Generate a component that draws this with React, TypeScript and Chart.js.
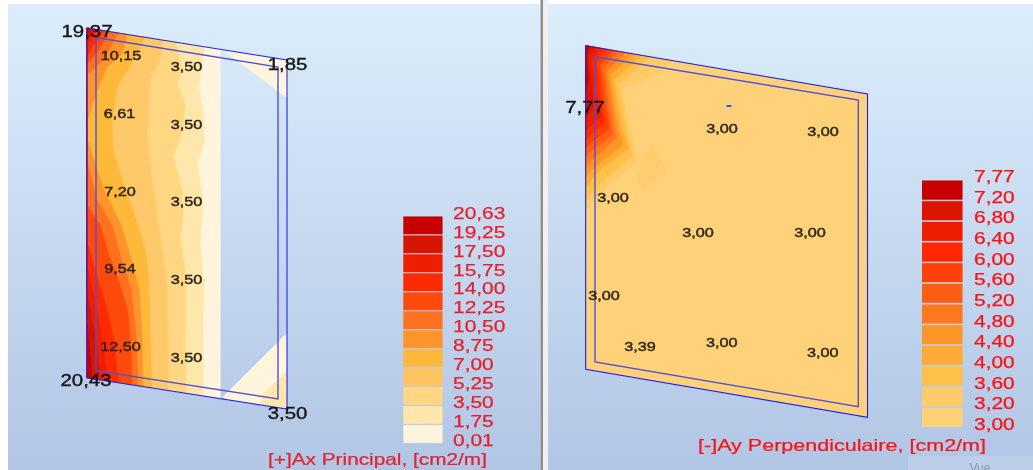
import React, { useEffect, useRef } from "react";
import { Chart, registerables } from "chart.js";

Chart.register(...registerables);

type P = [number, number];

// ---------- left plate (Ax) ----------
const leftOuter: P[] = [[86.7, 28], [287, 60], [287, 409], [86.7, 377.7]];
const leftInner: P[] = [[96, 37.5], [278, 67], [278, 399], [96, 370.7]];
const leftBaseColor = "#fff5dc";
const leftColors = ["#ffe6ab", "#ffd682", "#ffc96a", "#ffb93a", "#ff932c", "#ff711e", "#ff4a0e", "#ff2a00", "#ee1e00", "#d61400", "#c60000"];
const leftBase: P[] = [[86.7, 28], [220, 48.9], [220, 398.5], [86.7, 377.7]];
const leftTriTop: P[] = [[221.7, 49.2], [287, 60], [287, 98]];
const leftTriBottom: P[] = [[287, 333], [223, 397], [226, 399.5], [287, 409]];
const leftTriBottom2: P[] = [[287, 372], [262, 395], [262, 405], [287, 409]];
const leftContours: P[][] = [
  [[203, 46.2], [203.5, 55], [198.5, 86.7], [203.5, 113], [204, 143], [197.5, 163], [203, 200], [200, 245], [204, 282], [203, 335], [203, 395.9]],
  [[176, 42], [181.7, 71.7], [176.7, 83], [185, 103], [183, 130], [173, 157], [181.7, 187], [183, 215], [180, 238], [185, 268], [185, 335], [186, 393.2]],
  [[163, 40], [160, 60], [150, 80], [148, 124], [147, 133], [153, 187], [159, 230], [167, 285], [168, 335], [168, 390.4]],
  [[145, 37.1], [130, 67], [117, 86], [112, 124], [113, 150], [122, 180], [139, 228], [147, 258], [149, 288], [150, 335], [152, 387.9]],
  [[127, 34.3], [122, 54], [107, 67], [97, 91], [87.5, 120], [86.7, 137], [94, 160], [104, 190], [121, 225], [131, 258], [139, 288], [142, 335], [143, 386.5]],
  [[118, 32.9], [104, 59], [94, 69], [86.7, 74], [86.7, 160], [97, 200], [112, 225], [121, 258], [131, 288], [136, 335], [138, 385.7]],
  [[110, 31.6], [97, 52], [86.7, 64], [86.7, 205], [100, 225], [110, 258], [121, 288], [128, 312], [131, 350], [132, 384.8]],
  [[104, 30.7], [94, 44], [86.7, 56], [86.7, 240], [95, 270], [106, 305], [114, 340], [118, 382.6]],
  [[98, 29.8], [90, 38], [86.7, 50], [86.7, 265], [95, 300], [102, 340], [108, 381]],
  [[94, 29.1], [86.7, 43], [86.7, 290], [96, 340], [100, 379.8]],
  [[90, 28.5], [86.7, 36], [86.7, 320], [89, 340], [92, 378.5]],
];

// ---------- right plate (Ay) ----------
const rightOuter: P[] = [[585.7, 45.7], [867.5, 94], [867.5, 417.3], [585.7, 369.3]];
const rightInner: P[] = [[595, 56.7], [858.3, 100], [858.3, 406.7], [595, 362]];
const rightBaseColor = "#ffd27a";
const rightPatchColor = "#ffcd70";
const rightColors = ["#ffca68", "#ffc048", "#ffac36", "#ff9428", "#ff7820", "#ff5c14", "#ff4008", "#ff2800", "#ee1c00", "#dc1400", "#c80000"];
const rightPatch: P[] = [[651.7, 144.3], [667.3, 171.7], [641.7, 191], [636, 175]];
const rightContours: P[][] = [
  [[673, 60.7], [661.7, 71.7], [621.7, 90], [630, 130], [637.3, 161.7], [608.3, 185], [585.7, 210]],
  [[650, 56.7], [618.3, 85], [625, 123.3], [632.7, 155], [605, 178.3], [585.7, 200]],
  [[641.7, 55.3], [613.3, 80], [621.7, 126.7], [628.3, 148.3], [600, 170], [585.7, 186.7]],
  [[633.3, 53.9], [610, 75], [616.7, 120], [622.7, 145], [596.7, 165], [585.7, 176.7]],
  [[625, 52.5], [606.7, 71.7], [613.3, 116.7], [616.7, 138.3], [593.3, 158.3], [585.7, 166.7]],
  [[618.3, 51.3], [603.3, 68.3], [608.3, 106.7], [612.7, 135], [591.7, 150], [585.7, 156.7]],
  [[613.3, 50.4], [600, 65], [605, 105], [609.3, 128.3], [590, 143.3], [585.7, 148.3]],
  [[605, 49], [596.7, 61.7], [600, 96.7], [605, 121.7], [588.3, 136.7], [585.7, 140]],
  [[600, 48.2], [591.7, 60], [595, 90], [601.7, 116.7], [585.7, 130]],
  [[595, 47.3], [588.3, 56.7], [591.7, 86.7], [593.3, 106.7], [585.7, 118.3]],
  [[590, 46.4], [586.7, 55], [588.3, 80], [585.7, 93.3]],
];

// ---------- legends ----------
const leftLegendValues = ["20,63", "19,25", "17,50", "15,75", "14,00", "12,25", "10,50", "8,75", "7,00", "5,25", "3,50", "1,75", "0,01"];
const leftLegendColors = ["#c60000", "#d61400", "#ee1e00", "#ff2a00", "#ff4a0e", "#ff711e", "#ff932c", "#ffb93a", "#ffc45f", "#ffd682", "#ffe6ab", "#fff5dc"];
const rightLegendValues = ["7,77", "7,20", "6,80", "6,40", "6,00", "5,60", "5,20", "4,80", "4,40", "4,00", "3,60", "3,20", "3,00"];
const rightLegendColors = ["#c80000", "#dc1400", "#ee1c00", "#ff2800", "#ff4008", "#ff5c14", "#ff7820", "#ff9428", "#ffac36", "#ffc048", "#ffca68", "#ffd27a"];
const leftTitle = "[+]Ax Principal, [cm2/m]";
const rightTitle = "[-]Ay Perpendiculaire, [cm2/m]";

// ---------- value labels ----------
const cornerLabels: [string, number, number][] = [
  ["19,37", 87, 31.5], ["1,85", 287.5, 64], ["20,43", 86, 380], ["3,50", 287.5, 413], ["7,77", 585, 107],
];
const pointLabels: [string, number, number][] = [
  ["10,15", 121, 55], ["3,50", 186.5, 66], ["6,61", 119.5, 113], ["3,50", 186.5, 124.5],
  ["7,20", 120, 191.5], ["3,50", 186.5, 201.5], ["9,54", 120, 268.5], ["3,50", 186.5, 279.5],
  ["12,50", 120.5, 346], ["3,50", 186.5, 357],
  ["3,00", 613, 197], ["3,00", 722, 128], ["3,00", 823, 131], ["3,00", 698, 232], ["3,00", 810, 232],
  ["3,00", 604, 295.7], ["3,39", 640, 346], ["3,00", 721.7, 342.3], ["3,00", 822.7, 352.7],
];
const blueTick: P[] = [[726.5, 106], [731.5, 106]];

const shape = (pts: P[], color: string) => ({
  type: "line" as const,
  data: pts.map(([x, y]) => ({ x, y })),
  showLine: true,
  fill: "shape" as const,
  backgroundColor: color,
  borderColor: color,
  borderWidth: 0.5,
  pointRadius: 0,
  tension: 0,
});

const outline = (pts: P[], color: string, width: number) => ({
  type: "line" as const,
  data: [...pts, pts[0]].map(([x, y]) => ({ x, y })),
  showLine: true,
  fill: false,
  borderColor: color,
  borderWidth: width,
  pointRadius: 0,
  tension: 0,
});

const contourPolygon = (c: P[], first: P, last: P): P[] => [first, ...c, last];

const swatches = (colors: string[], x0: number, x1: number, top: number, h: number, pitch: number) =>
  colors.map((col, i) =>
    shape([[x0, top + i * pitch], [x1, top + i * pitch], [x1, top + i * pitch + h], [x0, top + i * pitch + h]], col)
  );

function App() {
  const ref = useRef<HTMLCanvasElement | null>(null);
  useEffect(() => {
    const canvas = ref.current;
    if (!canvas) return;
    const panels = {
      id: "panels",
      beforeDraw(chart: any) {
        const { ctx, scales } = chart;
        const X = (v: number) => scales.x.getPixelForValue(v);
        const Y = (v: number) => scales.y.getPixelForValue(v);
        ctx.save();
        ctx.fillStyle = "#ffffff";
        ctx.fillRect(0, 0, 1033, 470);
        const g = ctx.createLinearGradient(0, Y(4), 0, Y(470));
        g.addColorStop(0, "#dcedfb");
        g.addColorStop(1, "#b1c6e5");
        ctx.fillStyle = g;
        ctx.fillRect(X(8), Y(4), X(540.5) - X(8), Y(470) - Y(4));
        ctx.fillRect(X(548), Y(4), X(1033) - X(548), Y(470) - Y(4));
        ctx.fillStyle = "#f0f0f0";
        ctx.fillRect(X(543), Y(0), 5, 470);
        ctx.fillStyle = "#8e8e8e";
        ctx.fillRect(X(540.5), Y(0), 2.5, 470);
        ctx.fillStyle = "#bccee8";
        ctx.fillRect(X(908), Y(456), X(1033) - X(908), Y(470) - Y(456));
        ctx.restore();
      },
    };
    const texts = {
      id: "texts",
      afterDatasetsDraw(chart: any) {
        const { ctx, scales } = chart;
        const X = (v: number) => scales.x.getPixelForValue(v);
        const Y = (v: number) => scales.y.getPixelForValue(v);
        const put = (t: string, x: number, y: number, size: number, sx: number, color: string, align: CanvasTextAlign, stroke = 0) => {
          ctx.save();
          ctx.translate(X(x), Y(y) + 1.3);
          ctx.scale(sx, 1);
          ctx.font = `${size}px "Liberation Sans"`;
          ctx.fillStyle = color;
          ctx.textAlign = align;
          ctx.textBaseline = "middle";
          ctx.fillText(t, 0, 0);
          if (stroke > 0) {
            ctx.strokeStyle = color;
            ctx.lineWidth = stroke;
            ctx.strokeText(t, 0, 0);
          }
          ctx.restore();
        };
        leftLegendValues.forEach((t, i) => put(t, 453, 212.7 + i * 18.94, 17, 1.23, "#e8202c", "left", 0.25));
        rightLegendValues.forEach((t, i) => put(t, 974, 176 + i * 20.67, 17, 1.23, "#ff1010", "left", 0.25));
        put(leftTitle, 268, 459, 16.5, 1.26, "#e8202c", "left", 0.2);
        put(rightTitle, 698, 445, 16.5, 1.305, "#ff1010", "left", 0.2);
        cornerLabels.forEach(([t, x, y]) => put(t, x, y, 17, 1.2, "#141414", "center", 0.35));
        pointLabels.forEach(([t, x, y]) => put(t, x, y, 12.5, 1.3, "#2a2418", "center", 0.4));
        put("Vue", 980, 467, 12, 1, "#8c96a8", "center");
      },
    };
    const layers: any[] = [
      shape(leftBase, leftBaseColor),
      shape(leftTriTop, leftBaseColor),
      shape(leftTriBottom, leftBaseColor),
      shape(leftTriBottom2, leftColors[0]),
      ...leftContours.map((c, i) => shape(contourPolygon(c, leftOuter[0], leftOuter[3]), leftColors[i])),
      outline(leftInner, "#5050d8", 1.4),
      outline(leftOuter, "#2626ee", 1.1),
      shape(rightOuter, rightBaseColor),
      shape(rightPatch, rightPatchColor),
      ...rightContours.map((c, i) => shape(contourPolygon(c, rightOuter[0], rightOuter[0]), rightColors[i])),
      outline(rightInner, "#5050d8", 1.4),
      outline(rightOuter, "#1c1cf0", 1.1),
      { type: "line", data: blueTick.map(([x, y]) => ({ x, y })), showLine: true, borderColor: "#2a5af0", borderWidth: 2, pointRadius: 0, fill: false },
      ...swatches(leftLegendColors, 403.3, 442, 216.7, 17.4, 18.96),
      ...swatches(rightLegendColors, 922, 962, 180.7, 18.7, 20.66),
    ];
    // Chart.js paints the first dataset last, so the painter's order is reversed here.
    const datasets = [...layers].reverse();
    const chart = new Chart(canvas, {
      type: "scatter",
      data: { datasets },
      options: {
        animation: false,
        responsive: false,
        layout: { padding: 0 },
        plugins: { legend: { display: false }, tooltip: { enabled: false }, title: { display: false } },
        scales: {
          x: { type: "linear", display: false, min: 0, max: 1033 },
          y: { type: "linear", display: false, min: 0, max: 470, reverse: true },
        },
      },
      plugins: [panels, texts],
    } as any);
    return () => chart.destroy();
  }, []);
  return (
    <canvas
      ref={ref}
      width={1033}
      height={470}
      style={{ position: "fixed", left: 0, top: 0, width: 1033, height: 470, display: "block", filter: "blur(0.45px)" }}
    />
  );
}

export default App;
